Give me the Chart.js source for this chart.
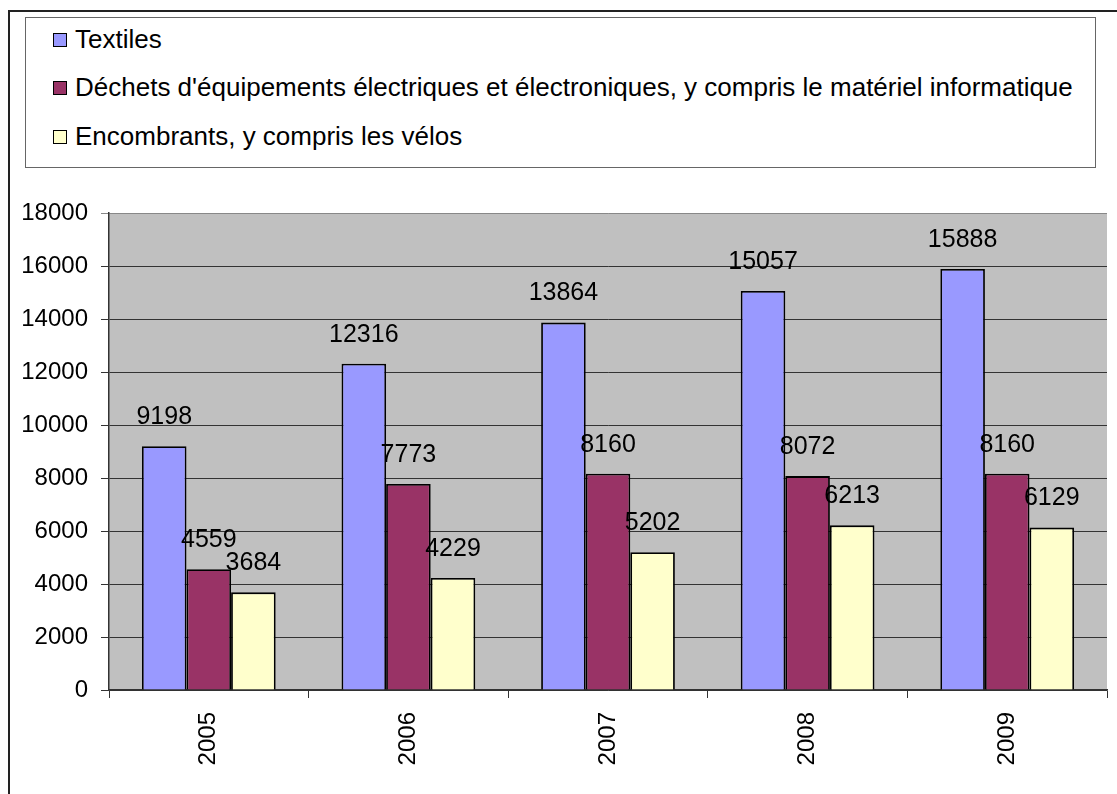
<!DOCTYPE html>
<html>
<head>
<meta charset="utf-8">
<script src="https://cdn.jsdelivr.net/npm/chart.js@4/dist/chart.umd.min.js"></script>
<style>
  html, body { margin:0; padding:0; background:#fff; overflow:hidden; width:1117px; height:794px; }
  #frame { position:absolute; left:8px; top:10px; width:1200px; height:900px; border:2px solid #222; }
  #legend { position:absolute; left:25px; top:17px; width:1069px; height:149px; border:1px solid #666; background:#fff;
            font-family:"Liberation Sans", Arial, sans-serif; font-size:26px; color:#000; }
  .item { position:absolute; left:27px; height:28px; line-height:28px; white-space:nowrap; }
  .sw { position:absolute; left:0; top:6px; width:12px; height:12px; border:1.5px solid #000; }
  .lbl { position:absolute; left:22px; top:-2px; }
  canvas { position:absolute; left:0; top:0; }
</style>
</head>
<body>
<div id="frame"></div>
<div id="legend"></div>
<canvas id="c" width="1117" height="794"></canvas>
<script>
const categories = ["2005", "2006", "2007", "2008", "2009"];
const seriesNames = [
  "Textiles",
  "Déchets d'équipements électriques et électroniques, y compris le matériel informatique",
  "Encombrants, y compris les vélos"
];
const textiles = [9198, 12316, 13864, 15057, 15888];
const dechets = [4559, 7773, 8160, 8072, 8160];
const encombrants = [3684, 4229, 5202, 6213, 6129];
const yTicks = [0, 2000, 4000, 6000, 8000, 10000, 12000, 14000, 16000, 18000];

const colors = ["#9999FF", "#993366", "#FFFFCC"];
const seriesValues = [textiles, dechets, encombrants];
const FONT = '"Liberation Sans", Arial, sans-serif';

// HTML legend
const legend = document.getElementById('legend');
const rowTops = [9, 57, 106];
seriesNames.forEach((name, i) => {
  const d = document.createElement('div');
  d.className = 'item';
  d.style.top = rowTops[i] + 'px';
  d.innerHTML = '<span class="sw" style="background:' + colors[i] + '"></span><span class="lbl"></span>';
  d.querySelector('.lbl').textContent = name;
  legend.appendChild(d);
});

const plotBg = {
  id: 'plotBg',
  beforeDraw(chart) {
    const {ctx, chartArea: a} = chart;
    ctx.save();
    ctx.fillStyle = '#C0C0C0';
    ctx.fillRect(a.left, a.top, a.right - a.left, a.bottom - a.top);
    ctx.restore();
  }
};

const valueLabels = {
  id: 'valueLabels',
  afterDatasetsDraw(chart) {
    const ctx = chart.ctx;
    ctx.save();
    ctx.font = '25px ' + FONT;
    ctx.fillStyle = '#000';
    ctx.textAlign = 'center';
    ctx.textBaseline = 'middle';
    chart.data.datasets.forEach((ds, di) => {
      chart.getDatasetMeta(di).data.forEach((bar, i) => {
        ctx.fillText(String(ds.data[i]), bar.x, bar.y - 29);
      });
    });
    ctx.restore();
  }
};

Chart.defaults.font.family = FONT;
Chart.defaults.font.size = 24;
Chart.defaults.color = '#000';

new Chart(document.getElementById('c'), {
  type: 'bar',
  data: {
    labels: categories,
    datasets: seriesNames.map((n, i) => ({
      label: n,
      data: seriesValues[i],
      backgroundColor: colors[i],
      borderColor: '#000',
      borderWidth: 1.8,
      barPercentage: 1,
      categoryPercentage: 0.67
    }))
  },
  options: {
    responsive: false,
    animation: false,
    layout: { padding: { top: 213, right: 10, left: 0, bottom: 0 } },
    plugins: { legend: { display: false }, tooltip: { enabled: false } },
    scales: {
      x: {
        grid: { offset: true, drawOnChartArea: false, drawTicks: true, tickLength: 8, color: '#333', lineWidth: 1 },
        border: { color: '#333', width: 1.5 },
        ticks: { minRotation: 90, maxRotation: 90, padding: 14, font: { size: 24 } },
        afterFit(s) { s.height = 104; }
      },
      y: {
        min: 0, max: 18000,
        afterBuildTicks(s) { s.ticks = yTicks.map(v => ({ value: v })); },
        grid: { tickLength: 8, color: ctx => (ctx.tick && ctx.tick.value === 18000) ? '#888' : '#333', lineWidth: 1 },
        border: { color: '#333', width: 1.5 },
        ticks: { padding: 13, font: { size: 24 }, callback: v => String(v) },
        afterFit(s) { s.width = 109; }
      }
    }
  },
  plugins: [plotBg, valueLabels]
});
</script>
</body>
</html>
